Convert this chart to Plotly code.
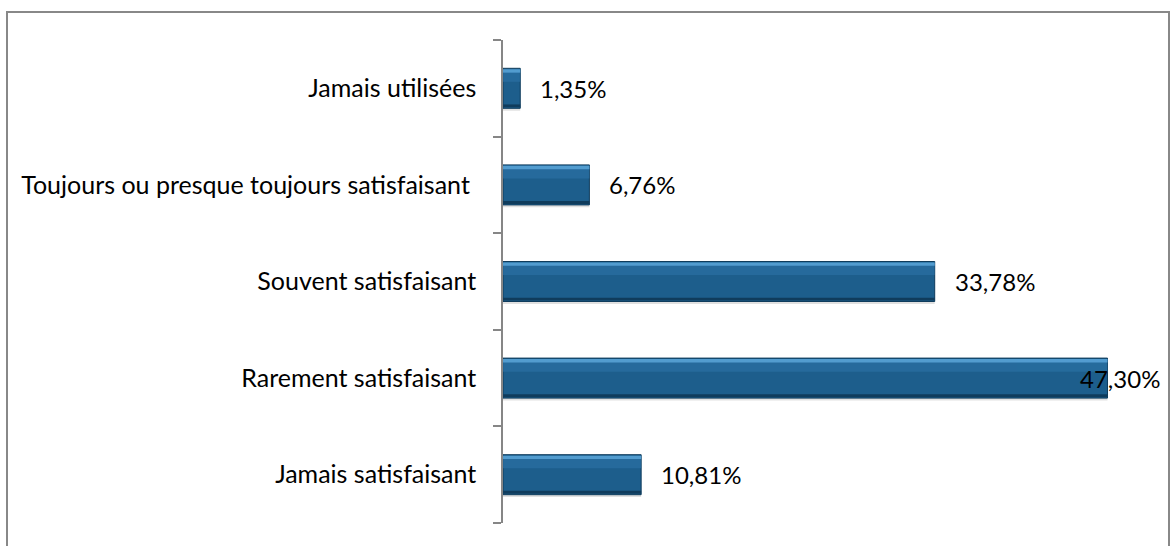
import plotly.graph_objects as go

categories = [
    "Jamais satisfaisant",
    "Rarement satisfaisant",
    "Souvent satisfaisant",
    "Toujours ou presque toujours satisfaisant\u00a0",
    "Jamais utilisées",
]
values = [10.81, 47.30, 33.78, 6.76, 1.35]
labels = ["10,81%", "47,30%", "33,78%", "6,76%", "1,35%"]

W, H = 1171, 546
# plot area in screen pixels
PX0, PX1, PY0, PY1 = 503, 1142, 40, 523
L, R, T, B = PX0, W - PX1, PY0, H - PY1
XMAX = 50
BW = 0.414
FONT = "Lato"
FS_TICK = 25
FS_LAB = 24

main_col = "#1d5e8c"
mid_col = "#2a70a3"
top_col = "#5aa5d9"
bot_col = "#103c5c"

fig = go.Figure()
# shadow
fig.add_trace(go.Bar(y=categories, x=values, orientation="h", width=BW, offset=-BW / 2 - 0.025,
                     marker=dict(color="rgba(0,0,0,0.12)", line=dict(width=0)), hoverinfo="skip"))
# main
fig.add_trace(go.Bar(y=categories, x=values, orientation="h", width=BW, offset=-BW / 2,
                     marker=dict(color=main_col, line=dict(color="#0f3c5c", width=1))))
# upper lighter band
fig.add_trace(go.Bar(y=categories, x=values, orientation="h", width=0.13, offset=BW / 2 - 0.14,
                     marker=dict(color=mid_col, line=dict(width=0)), opacity=0.7, hoverinfo="skip"))
# top highlight
fig.add_trace(go.Bar(y=categories, x=values, orientation="h", width=0.035, offset=BW / 2 - 0.045,
                     marker=dict(color=top_col, line=dict(width=0)), opacity=0.85, hoverinfo="skip"))
# bottom dark
fig.add_trace(go.Bar(y=categories, x=values, orientation="h", width=0.03, offset=-BW / 2 + 0.01,
                     marker=dict(color=bot_col, line=dict(width=0)), hoverinfo="skip"))

pw = PX1 - PX0
ph = PY1 - PY0
def px_to_paper_x(p):
    return (p - PX0) / pw
def px_to_paper_y(p):
    return 1 - (p - PY0) / ph

for c, v, t in zip(categories, values, labels):
    end_px = PX0 + v / XMAX * pw
    if end_px + 20 + 80 > 1165:
        fig.add_annotation(x=px_to_paper_x(1162), xref="paper", y=c, yref="y", text=t,
                           showarrow=False, xanchor="right", font=dict(family=FONT, size=FS_LAB, color="black"))
    else:
        fig.add_annotation(x=v, y=c, text=t, showarrow=False, xanchor="left", xshift=18,
                           font=dict(family=FONT, size=FS_LAB, color="black"))

# chart border
fig.add_shape(type="rect", xref="paper", yref="paper",
              x0=px_to_paper_x(7), x1=px_to_paper_x(1169), y0=px_to_paper_y(580), y1=px_to_paper_y(12),
              line=dict(color="#888888", width=2), fillcolor="rgba(0,0,0,0)", layer="below")

fig.update_layout(
    width=W, height=H, barmode="overlay", showlegend=False,
    margin=dict(l=L, r=R, t=T, b=B),
    paper_bgcolor="white", plot_bgcolor="white",
    font=dict(family=FONT, size=FS_TICK, color="black"),
    xaxis=dict(range=[0, XMAX], visible=False, fixedrange=True),
    yaxis=dict(type="category", categoryorder="array", categoryarray=categories,
               showline=True, linecolor="#868686", linewidth=1.5,
               ticks="outside", ticklen=8, tickcolor="#868686", tickwidth=1.5,
               tickson="boundaries", showgrid=False, ticklabelstandoff=20,
               tickfont=dict(family=FONT, size=FS_TICK, color="black")),
)
fig.write_html("out.html", config={"displayModeBar": False},
               post_script="document.body.style.margin='0';document.body.style.overflow='hidden';")
